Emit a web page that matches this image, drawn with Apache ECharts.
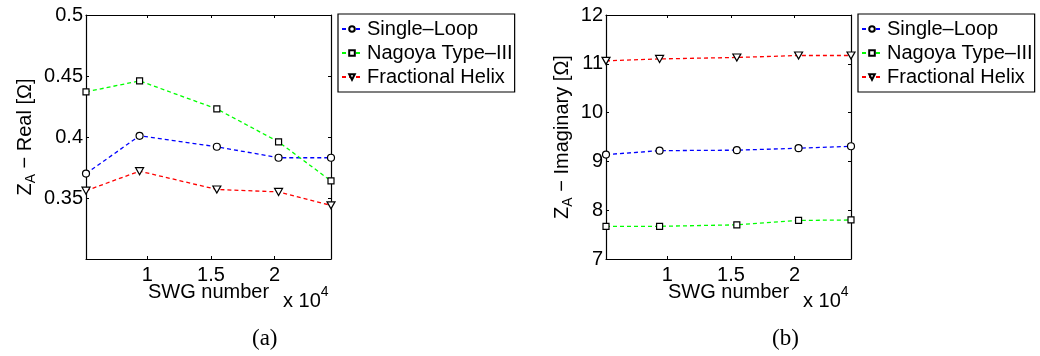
<!DOCTYPE html>
<html><head><meta charset="utf-8">
<script src="https://cdn.jsdelivr.net/npm/echarts@6/dist/echarts.min.js"></script>
<style>html,body{margin:0;padding:0;background:#fff}#c{width:1040px;height:356px}</style>
</head><body><div id="c"></div>
<script>
const swgNumber = [5180, 9390, 15460, 20310, 24430];
const xTickValues = [10000, 15000, 20000];
const seriesNames = ['Single\u2013Loop', 'Nagoya Type\u2013III', 'Fractional Helix'];
const realSingleLoop = [0.370, 0.401, 0.392, 0.383, 0.383];
const realNagoya = [0.437, 0.446, 0.423, 0.396, 0.364];
const realHelix = [0.356, 0.372, 0.357, 0.355, 0.344];
const imagSingleLoop = [9.14, 9.22, 9.23, 9.27, 9.31];
const imagNagoya = [7.67, 7.67, 7.70, 7.79, 7.80];
const imagHelix = [11.06, 11.10, 11.13, 11.17, 11.17];
const realAxisRange = [0.3, 0.5, 0.05];
const imagAxisRange = [7, 12, 1];

const FONT = 'Liberation Sans';
const colors = ['#0000ff', '#00ff00', '#ff0000'];
const symbols = ['circle', 'rect', 'path://M0,0 L10,0 L5,9 Z'];
const symSizes = [7, 6, [8, 7]];

function xAxes(gi) {
  const base = {
    gridIndex: gi, type: 'value', min: swgNumber[0], max: swgNumber[swgNumber.length - 1],
    splitLine: { show: false },
    axisLine: { lineStyle: { color: '#000', width: 1.2 } },
    axisTick: { inside: true, length: 3, customValues: xTickValues, lineStyle: { color: '#000' } },
  };
  return [
    Object.assign({}, base, {
      position: 'bottom',
      axisLabel: { customValues: xTickValues, formatter: v => String(v / 10000), fontSize: 20, fontFamily: FONT, color: '#000', margin: 6 },
      name: 'SWG number', nameLocation: 'middle', nameGap: 23, nameMoveOverlap: false,
      nameTextStyle: { fontSize: 20, fontFamily: FONT, color: '#000' }
    }),
    Object.assign({}, base, { position: 'top', axisLabel: { show: false } })
  ];
}
function yAxes(gi, range, name, gap) {
  const base = {
    gridIndex: gi, type: 'value', min: range[0], max: range[1], interval: range[2],
    splitLine: { show: false },
    axisLine: { lineStyle: { color: '#000', width: 1.2 } },
    axisTick: { inside: true, length: 3, lineStyle: { color: '#000' } },
  };
  return [
    Object.assign({}, base, {
      position: 'left',
      axisLabel: {
        fontSize: 20, fontFamily: FONT, color: '#000', margin: 3,
        formatter: v => (gi === 0 && Math.abs(v - range[0]) < 1e-9) ? '' : String(+v.toFixed(2))
      },
      name: name, nameLocation: 'middle', nameGap: gap, nameMoveOverlap: false,
      nameTextStyle: {
        rich: {
          m: { fontSize: 20, fontFamily: FONT, color: '#000', lineHeight: 26 },
          s: { fontSize: 14, fontFamily: FONT, color: '#000', lineHeight: 14, verticalAlign: 'bottom' }
        }
      }
    }),
    Object.assign({}, base, { position: 'right', axisLabel: { show: false } })
  ];
}
function mkSeries(gi, data, k) {
  return {
    type: 'line', name: seriesNames[k], xAxisIndex: gi * 2, yAxisIndex: gi * 2,
    data: swgNumber.map((x, i) => [x, data[i]]),
    symbol: symbols[k], symbolSize: symSizes[k], showAllSymbol: true, clip: false,
    lineStyle: { color: colors[k], width: 1.3, type: [4, 3] },
    itemStyle: { color: '#fff', borderColor: '#000', borderWidth: 1.2 },
    emphasis: { disabled: true }, animation: false, z: 3
  };
}
function legend(left) {
  return {
    left: left, top: 14, orient: 'vertical', data: seriesNames,
    itemWidth: 20, itemHeight: 7, itemGap: 4, padding: [5, 2, 5, 3],
    borderColor: '#000', borderWidth: 1.2, backgroundColor: '#fff',
    textStyle: { fontSize: 20, fontFamily: FONT, color: '#000', lineHeight: 20 },
    selectedMode: false
  };
}
const supRich = {
  m: { fontSize: 20, fontFamily: FONT, fontWeight: 'normal', color: '#000', lineHeight: 26, verticalAlign: 'bottom' },
  p: { fontSize: 14, fontFamily: FONT, fontWeight: 'normal', color: '#000', lineHeight: 14, verticalAlign: 'top' }
};
const chart = echarts.init(document.getElementById('c'), null, { renderer: 'canvas' });
chart.setOption({
  animation: false,
  backgroundColor: '#fff',
  grid: [
    { left: 86, top: 15, width: 245, height: 244 },
    { left: 606, top: 15, width: 245, height: 244 }
  ],
  xAxis: xAxes(0).concat(xAxes(1)),
  yAxis: yAxes(0, realAxisRange, '{m|Z}{s|A}{m| \u2212 Real [\u03A9]}', 48)
    .concat(yAxes(1, imagAxisRange, '{m|Z}{s|A}{m| \u2212 Imaginary [\u03A9]}', 31)),
  legend: [legend(338), legend(858)],
  title: [
    { left: 283, top: 285, padding: 0, text: '{m|x 10}{p|4}', textStyle: { fontWeight: 'normal', rich: supRich } },
    { left: 803, top: 285, padding: 0, text: '{m|x 10}{p|4}', textStyle: { fontWeight: 'normal', rich: supRich } },
    { left: 247, top: 322, text: '(a)', textStyle: { fontSize: 23, fontWeight: 'normal', fontFamily: 'Liberation Serif', color: '#000' } },
    { left: 767, top: 322, text: '(b)', textStyle: { fontSize: 23, fontWeight: 'normal', fontFamily: 'Liberation Serif', color: '#000' } }
  ],
  series: [
    mkSeries(0, realSingleLoop, 0), mkSeries(0, realNagoya, 1), mkSeries(0, realHelix, 2),
    mkSeries(1, imagSingleLoop, 0), mkSeries(1, imagNagoya, 1), mkSeries(1, imagHelix, 2)
  ]
});
</script></body></html>
